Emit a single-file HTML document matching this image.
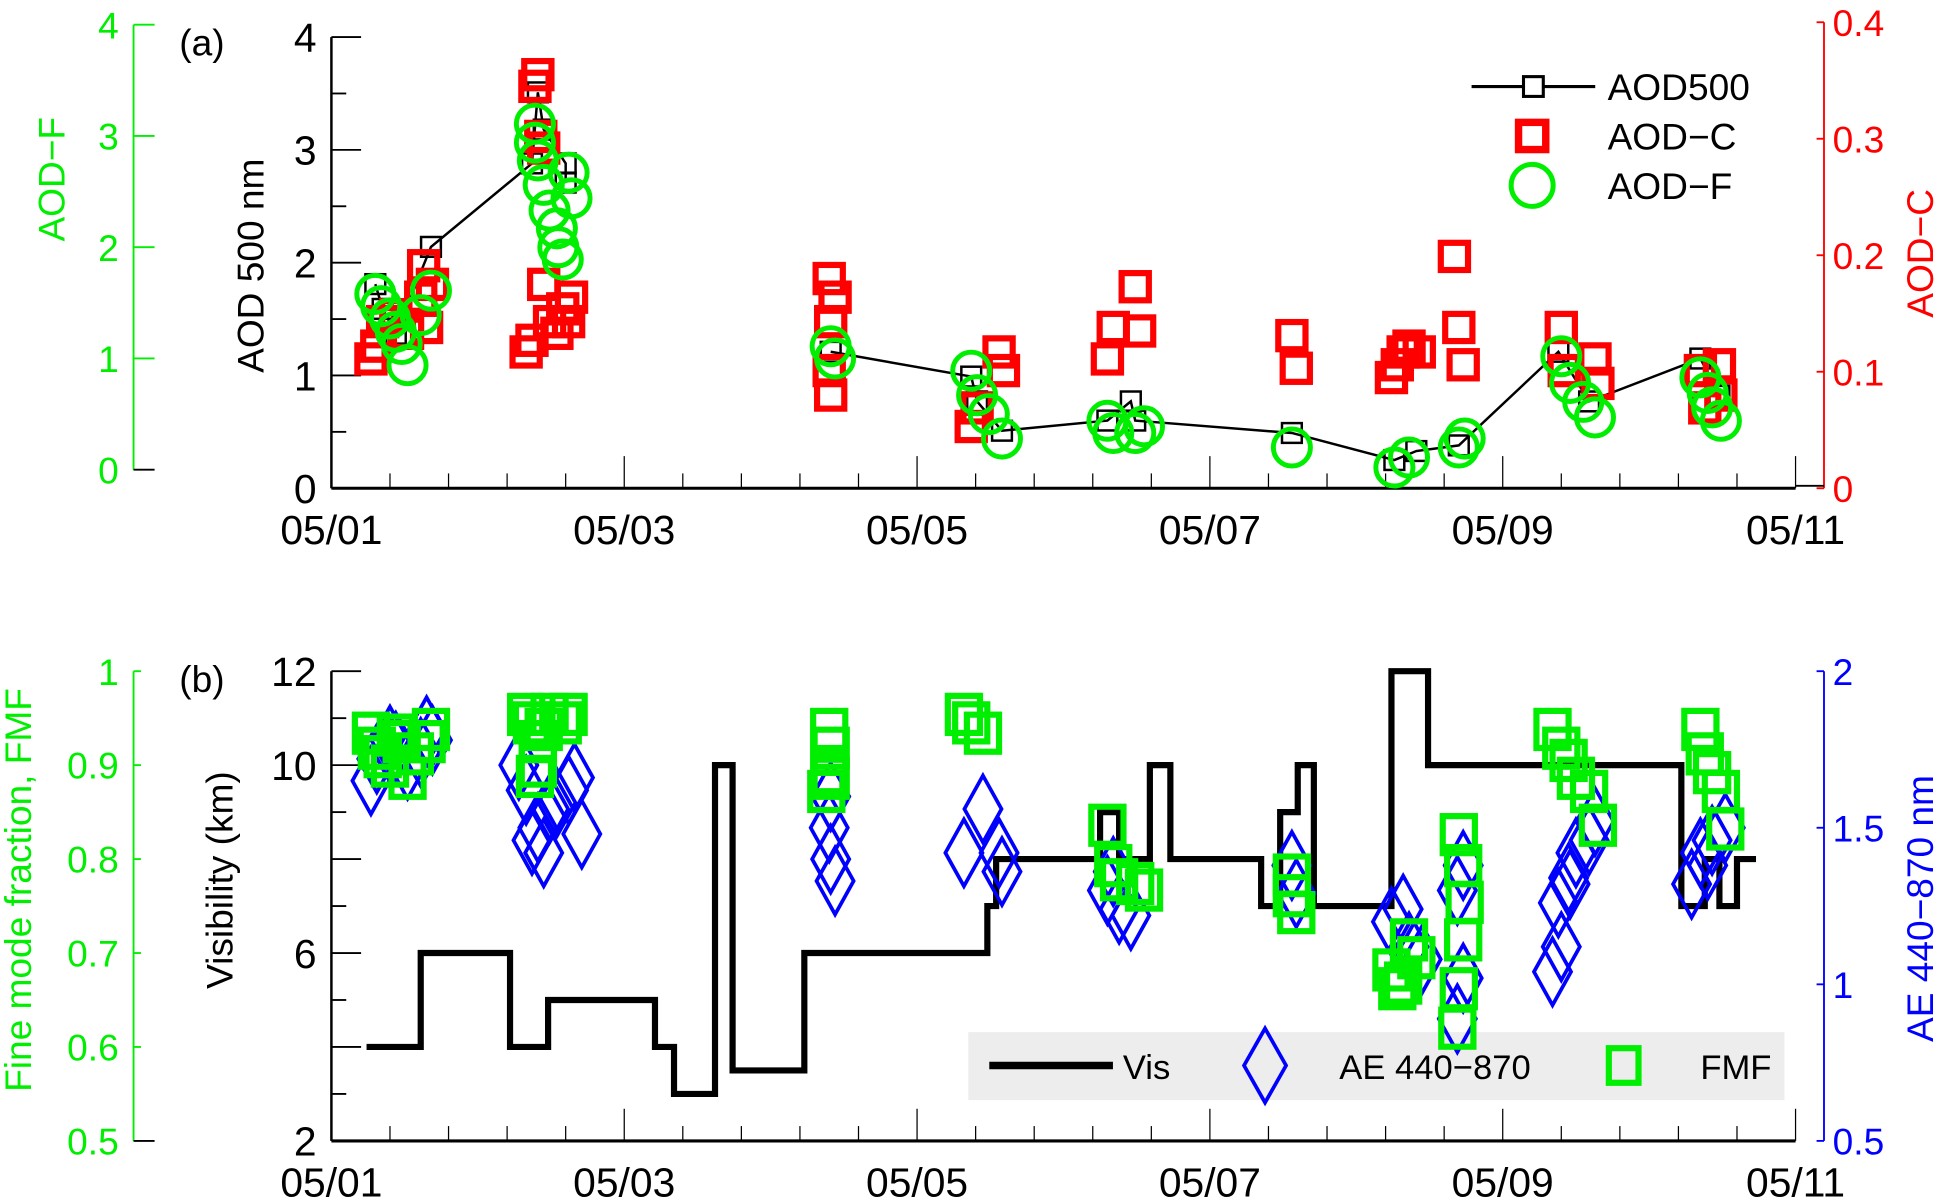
<!DOCTYPE html>
<html><head><meta charset="utf-8"><style>
html,body{margin:0;padding:0;background:#fff}
svg{display:block}
text{font-family:"Liberation Sans",Arial,sans-serif}
</style></head><body>
<svg id="chart" width="1939" height="1199" viewBox="0 0 1568 970" preserveAspectRatio="none" xmlns="http://www.w3.org/2000/svg"></svg>
<script>
// ---------- Data (time in days since 05/01 00:00) ----------
const dateLabels = ["05/01","05/03","05/05","05/07","05/09","05/11"];
const dateLabelDays = [0,2,4,6,8,10];

const aod500Days = [0.30,0.35,0.44,0.68,1.37,1.41,1.45,1.60,1.60,3.41,4.37,4.41,4.58,5.30,5.46,5.49,6.56,7.26,7.41,7.70,8.38,8.59,9.35,9.48];
const aod500Vals = [1.81,1.59,1.37,2.14,2.88,3.51,3.18,2.88,2.71,1.21,0.99,0.77,0.51,0.60,0.77,0.60,0.49,0.25,0.33,0.38,1.21,0.77,1.15,0.82];

const aodCDays = [0.27,0.31,0.35,0.44,0.52,0.61,0.63,0.65,0.69,1.33,1.37,1.39,1.41,1.43,1.45,1.45,1.49,1.54,1.58,1.62,1.64,3.40,3.44,3.41,3.40,3.41,4.37,4.41,4.56,4.59,5.30,5.34,5.49,5.52,6.56,6.59,7.24,7.28,7.32,7.36,7.43,7.67,7.70,7.73,8.40,8.42,8.63,8.65,9.35,9.48,9.49,9.38];
const aodCVals = [.111,.122,.143,.149,.133,.164,.191,.138,.175,.117,.127,.345,.355,.302,.292,.175,.143,.133,.154,.143,.164,.180,.164,.143,.101,.080,.053,.069,.117,.101,.111,.138,.173,.135,.131,.103,.095,.106,.117,.122,.117,.199,.138,.106,.138,.101,.111,.090,.101,.106,.080,.069];

const aodFDays = [0.30,0.34,0.40,0.44,0.48,0.52,0.61,0.68,1.39,1.39,1.41,1.45,1.49,1.54,1.55,1.58,1.62,1.64,3.41,3.44,4.37,4.41,4.49,4.58,5.30,5.34,5.49,5.55,6.56,7.26,7.36,7.70,7.74,8.40,8.46,8.55,8.63,9.35,9.40,9.43,9.49];
const aodFVals = [1.58,1.47,1.36,1.24,1.13,0.94,1.39,1.61,3.11,2.94,2.78,2.56,2.33,2.17,2.0,1.89,2.67,2.44,1.11,1.0,0.89,0.67,0.5,0.28,0.44,0.33,0.33,0.39,0.2,0.02,0.11,0.2,0.28,1.02,0.78,0.61,0.47,0.83,0.69,0.56,0.44];

const visStartDays = [0.24,0.61,1.22,1.48,2.21,2.34,2.62,2.74,3.23,4.48,4.54,5.25,5.38,5.59,5.73,6.35,6.48,6.60,6.71,7.24,7.49,9.22,9.38,9.48,9.60];
const visEndDay = 9.73;
const visVals = [4,6,4,5,4,3,10,3.5,6,7,8,9,8,10,8,7,9,10,7,12,10,7,8,7,8];

const aeDays = [0.27,0.31,0.40,0.52,0.65,0.69,0.61,0.44,1.28,1.33,1.37,1.45,1.49,1.54,1.62,1.66,1.71,1.41,3.40,3.41,3.44,3.41,4.32,4.45,4.58,4.56,5.30,5.38,5.46,5.34,6.56,6.59,7.24,7.32,7.36,7.45,7.69,7.73,7.73,7.69,8.34,8.40,8.38,8.45,8.50,8.59,8.63,8.46,9.29,9.35,9.43,9.52,9.40];
const aeVals = [1.65,1.72,1.78,1.70,1.81,1.78,1.74,1.76,1.70,1.62,1.46,1.42,1.56,1.58,1.62,1.66,1.48,1.50,1.50,1.40,1.33,1.60,1.42,1.56,1.36,1.42,1.30,1.24,1.22,1.36,1.38,1.29,1.20,1.24,1.12,1.08,0.89,1.02,1.38,1.30,1.04,1.12,1.26,1.34,1.42,1.46,1.52,1.32,1.32,1.42,1.46,1.50,1.38];

const fmfDays = [0.27,0.31,0.35,0.40,0.44,0.52,0.57,0.65,0.68,0.48,1.33,1.37,1.41,1.39,1.45,1.49,1.58,1.62,1.41,3.40,3.41,3.40,3.38,3.41,4.32,4.37,4.45,5.30,5.34,5.38,5.49,5.55,6.56,6.56,6.59,7.24,7.32,7.36,7.28,7.41,7.69,7.70,7.73,7.74,7.73,7.70,8.34,8.40,8.45,8.50,8.59,8.65,9.35,9.38,9.43,9.49,9.52];
const fmfVals = [.934,.918,.909,.899,.932,.886,.912,.925,.938,.925,.954,.945,.925,.888,.938,.954,.945,.954,.899,.938,.918,.892,.872,.886,.954,.945,.934,.836,.793,.778,.774,.767,.783,.761,.743,.682,.668,.714,.662,.695,.620,.662,.714,.754,.793,.826,.938,.918,.905,.886,.872,.836,.938,.912,.892,.872,.832];

// ---------- Scales ----------
const X0 = 268, X1 = 1452;
const xS = d => X0 + d * (X1 - X0) / 10;
const yAod = v => 395 - v * 91.25;
const yAodC = v => 395 - v * 942.5;
const yAodF = v => 380 - v * 90;
const yVis = v => 923 - (v - 2) * 38;
const yAe = v => 923 - (v - 0.5) * 253.33;
const yFmf = v => 923 - (v - 0.5) * 760;

const svg = document.getElementById('chart');
const NS = 'http://www.w3.org/2000/svg';
function mk(tag, attrs, parent) {
  const e = document.createElementNS(NS, tag);
  for (const k in attrs) e.setAttribute(k, attrs[k]);
  (parent || svg).appendChild(e);
  return e;
}
function txt(s, x, y, size, fill, anchor, rot, parent) {
  const t = mk('text', {x: x, y: y, 'font-size': size, fill: fill, 'text-anchor': anchor || 'middle'}, parent);
  if (rot) t.setAttribute('transform', `rotate(${rot} ${x} ${y})`);
  t.textContent = s;
  return t;
}
function group(name) {
  const g = mk('g', {});
  
  
  return g;
}

// ---------- X axes ----------
function xAxis(yBase, name) {
  const g = group(name);
  mk('line', {x1: X0, y1: yBase, x2: X1, y2: yBase, stroke: '#000', 'stroke-width': 2.5}, g);
  for (let i = 0; i <= 25; i++) {
    const d = i * 0.4, x = xS(d);
    const major = Math.abs(d / 2 - Math.round(d / 2)) < 1e-6;
    mk('line', {x1: x, y1: yBase, x2: x, y2: yBase - (major ? 26 : 12), stroke: '#000', 'stroke-width': 1}, g);
  }
  dateLabels.forEach((s, i) => {
    const t = txt(s, xS(dateLabelDays[i]), yBase + 45, 33, '#000', 'middle', 0, g);
    
    
  });
}
xAxis(395, 'x-axis-a');
xAxis(923, 'x-axis-b');

// ---------- Panel (a) axes ----------
(function () {
  const g = group('y-axis-aod500');
  mk('line', {x1: X0, y1: yAod(0), x2: X0, y2: yAod(4), stroke: '#000', 'stroke-width': 2}, g);
  for (let v = 0; v <= 4; v += 0.5) {
    const maj = v % 1 === 0;
    mk('line', {x1: X0, y1: yAod(v), x2: X0 + (maj ? 24 : 12), y2: yAod(v), stroke: '#000', 'stroke-width': 1.5}, g);
    if (maj) txt(String(v), 256, yAod(v) + 12, 33, '#000', 'end', 0, g);
  }
  const t = txt('AOD 500 nm', 213, 215, 30, '#000', 'middle', -90);  

  const gf = group('y-axis-aod-f');
  mk('line', {x1: 108, y1: yAodF(0), x2: 108, y2: yAodF(4), stroke: '#00ee00', 'stroke-width': 1.5}, gf);
  for (let v = 0; v <= 4; v++) {
    mk('line', {x1: 108, y1: yAodF(v), x2: 125, y2: yAodF(v), stroke: v === 0 ? '#000' : '#00ee00', 'stroke-width': 1.5}, gf);
    txt(String(v), 96, yAodF(v) + 11, 30, '#00ee00', 'end', 0, gf);
  }
  const tf = txt('AOD\u2212F', 52, 145, 30, '#00ee00', 'middle', -90);  

  const gc = group('y-axis-aod-c');
  mk('line', {x1: 1475, y1: yAodC(0), x2: 1475, y2: yAodC(0.4), stroke: '#ff0000', 'stroke-width': 1.5}, gc);
  mk('line', {x1: 1452, y1: yAodC(0) - 2, x2: 1475, y2: yAodC(0) - 2, stroke: '#000', 'stroke-width': 1.5}, gc);
  for (let i = 0; i <= 4; i++) {
    const v = i / 10;
    mk('line', {x1: 1475, y1: yAodC(v), x2: 1469, y2: yAodC(v), stroke: '#ff0000', 'stroke-width': 1.5}, gc);
    txt(i === 0 ? '0' : v.toFixed(1), 1482, yAodC(v) + 11, 30, '#ff0000', 'start', 0, gc);
  }
  const tc = txt('AOD\u2212C', 1563, 205, 30, '#ff0000', 'middle', -90);  
  const pa = txt('(a)', 145, 45, 30, '#000', 'start');  
})();

// ---------- Panel (a) series ----------
(function () {
  const gl = group('series-aod500');
  let segs = [], cur = [];
  aod500Days.forEach((d, i) => {
    if (i > 0 && d - aod500Days[i - 1] > 1.2) { segs.push(cur); cur = []; }
    cur.push([xS(d), yAod(aod500Vals[i])]);
  });
  segs.push(cur);
  segs.forEach(s => {
    const p = mk('polyline', {points: s.map(q => q.join(',')).join(' '), fill: 'none', stroke: '#000', 'stroke-width': 2}, gl);
    
    
  });
  const gc = group('series-aod-c');
  aodCDays.forEach((d, i) => {
    const r = mk('rect', {x: xS(d) - 11, y: yAodC(aodCVals[i]) - 11, width: 22, height: 22, fill: 'none', stroke: '#ff0000', 'stroke-width': 5}, gc);
    
    
  });
  aod500Days.forEach((d, i) => {
    const r = mk('rect', {x: xS(d) - 8, y: yAod(aod500Vals[i]) - 8, width: 16, height: 16, fill: 'none', stroke: '#000', 'stroke-width': 2}, gl);
    
    
  });
  const gf = group('series-aod-f');
  aodFDays.forEach((d, i) => {
    const c = mk('circle', {cx: xS(d), cy: yAodF(aodFVals[i]), r: 15, fill: 'none', stroke: '#00ee00', 'stroke-width': 4}, gf);
    
    
  });
  const lg = group('legend-a');
  mk('line', {x1: 1190, y1: 70, x2: 1290, y2: 70, stroke: '#000', 'stroke-width': 2.5}, lg);
  mk('rect', {x: 1232, y: 62, width: 16, height: 16, fill: '#fff', stroke: '#000', 'stroke-width': 2.5}, lg);
  txt('AOD500', 1300, 81, 30, '#000', 'start', 0, lg);
  mk('rect', {x: 1228, y: 99, width: 22, height: 22, fill: 'none', stroke: '#ff0000', 'stroke-width': 6}, lg);
  txt('AOD\u2212C', 1300, 121, 30, '#000', 'start', 0, lg);
  mk('circle', {cx: 1239, cy: 150, r: 17, fill: 'none', stroke: '#00ee00', 'stroke-width': 4}, lg);
  txt('AOD\u2212F', 1300, 161, 30, '#000', 'start', 0, lg);
})();

// ---------- Panel (b) axes ----------
(function () {
  const g = group('y-axis-visibility');
  mk('line', {x1: X0, y1: yVis(2), x2: X0, y2: yVis(12), stroke: '#000', 'stroke-width': 2}, g);
  for (let v = 2; v <= 12; v++) {
    const maj = v % 2 === 0;
    mk('line', {x1: X0, y1: yVis(v), x2: X0 + (maj ? 24 : 12), y2: yVis(v), stroke: '#000', 'stroke-width': 1.5}, g);
  }
  [2, 6, 10, 12].forEach(v => txt(String(v), 256, yVis(v) + 12, 33, '#000', 'end', 0, g));
  const t = txt('Visibility (km)', 188, 712, 30, '#000', 'middle', -90);  

  const gf = group('y-axis-fmf');
  mk('line', {x1: 108, y1: yFmf(0.5), x2: 108, y2: yFmf(1), stroke: '#00ee00', 'stroke-width': 1.5}, gf);
  for (let i = 5; i <= 10; i++) {
    const v = i / 10;
    mk('line', {x1: 108, y1: yFmf(v), x2: i === 5 ? 125 : 114, y2: yFmf(v), stroke: i === 5 ? '#000' : '#00ee00', 'stroke-width': 1.5}, gf);
    txt(i === 10 ? '1' : v.toFixed(1), 96, yFmf(v) + 11, 30, '#00ee00', 'end', 0, gf);
  }
  const tf = txt('Fine mode fraction, FMF', 25, 720, 30, '#00ee00', 'middle', -90);  

  const ga = group('y-axis-ae');
  mk('line', {x1: 1475, y1: yAe(0.5), x2: 1475, y2: yAe(2), stroke: '#0000ff', 'stroke-width': 1.5}, ga);
  [0.5, 1, 1.5, 2].forEach(v => {
    mk('line', {x1: 1475, y1: yAe(v), x2: 1469, y2: yAe(v), stroke: '#0000ff', 'stroke-width': 1.5}, ga);
    txt(String(v), 1482, yAe(v) + 11, 30, '#0000ff', 'start', 0, ga);
  });
  const ta = txt('AE 440\u2212870 nm', 1563, 735, 30, '#0000ff', 'middle', -90);  
  const pb = txt('(b)', 145, 560, 30, '#000', 'start');  
})();

// ---------- Panel (b) series ----------
(function () {
  const lg = group('legend-b');
  mk('rect', {x: 783, y: 835, width: 660, height: 55, fill: '#ededed'}, lg);

  const gv = group('series-visibility');
  let pts = [];
  visStartDays.forEach((d, i) => {
    const end = i < visStartDays.length - 1 ? visStartDays[i + 1] : visEndDay;
    pts.push([xS(d), yVis(visVals[i])], [xS(end), yVis(visVals[i])]);
  });
  const vl = mk('polyline', {points: pts.map(q => q.join(',')).join(' '), fill: 'none', stroke: '#000', 'stroke-width': 5, 'stroke-linejoin': 'miter'}, gv);
  
  

  const ga = group('series-ae');
  aeDays.forEach((d, i) => {
    const x = xS(d), y = yAe(aeVals[i]);
    const p = mk('polygon', {points: `${x},${y - 27} ${x + 15},${y} ${x},${y + 27} ${x - 15},${y}`, fill: 'none', stroke: '#0000ff', 'stroke-width': 3}, ga);
    
    
  });
  const gf = group('series-fmf');
  fmfDays.forEach((d, i) => {
    const r = mk('rect', {x: xS(d) - 13, y: yFmf(fmfVals[i]) - 15, width: 26, height: 30, fill: 'none', stroke: '#00ee00', 'stroke-width': 5}, gf);
    
    
  });

  const lg2 = group('legend-b-entries');
  mk('line', {x1: 800, y1: 862, x2: 900, y2: 862, stroke: '#000', 'stroke-width': 6}, lg2);
  txt('Vis', 908, 873, 28, '#000', 'start', 0, lg2);
  mk('polygon', {points: '1023,832 1040,862 1023,892 1006,862', fill: 'none', stroke: '#0000ff', 'stroke-width': 3}, lg2);
  txt('AE 440\u2212870', 1083, 873, 28, '#000', 'start', 0, lg2);
  mk('rect', {x: 1301, y: 848, width: 24, height: 28, fill: 'none', stroke: '#00ee00', 'stroke-width': 5}, lg2);
  txt('FMF', 1375, 873, 28, '#000', 'start', 0, lg2);
})();
</script>
</body></html>
